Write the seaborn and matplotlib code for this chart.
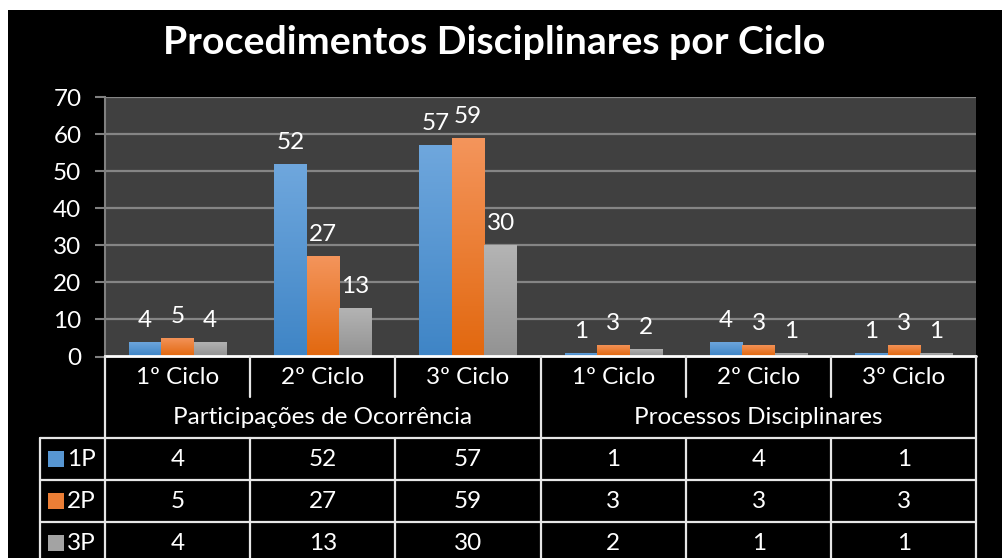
# Procedimentos Disciplinares por Ciclo - grafico de barras com tabela de dados
import numpy as np
import pandas as pd
import matplotlib
matplotlib.use('Agg')
import matplotlib.pyplot as plt
import matplotlib.colors as mcolors
import seaborn as sns

# dados
grupos = ['Participações de Ocorrência', 'Processos Disciplinares']
ciclos = ['1º Ciclo', '2º Ciclo', '3º Ciclo']
series = ['1P', '2P', '3P']
valores_1p = [4, 52, 57, 1, 4, 1]
valores_2p = [5, 27, 59, 3, 3, 3]
valores_3p = [4, 13, 30, 2, 1, 1]
yticks = [0, 10, 20, 30, 40, 50, 60, 70]

# cores (topo, base) do gradiente
cores = {'1P': ('#6fa7dd', '#3f85c6'),
         '2P': ('#f4955c', '#e2680f'),
         '3P': ('#b4b4b4', '#939393')}
cor_media = {s: mcolors.to_hex(np.mean([mcolors.to_rgb(c) for c in cores[s]], axis=0)) for s in series}

sns.set_theme(style='dark')
plt.rcParams['font.family'] = ['Lato', 'DejaVu Sans']

# tabela longa para o seaborn
categorias = [g + '|' + c for g in grupos for c in ciclos]
linhas = []
for s, vals in zip(series, [valores_1p, valores_2p, valores_3p]):
    for cat, v in zip(categorias, vals):
        linhas.append({'categoria': cat, 'serie': s, 'valor': v})
df = pd.DataFrame(linhas)

W, H = 1002, 558
fig = plt.figure(figsize=(W / 100, H / 100), dpi=100, facecolor='black')

def fx(x):
    return x / W

def fy(y):
    return 1 - y / H

# margem branca em cima e a esquerda
fig.patches.append(plt.Rectangle((0, fy(10)), 1, 1 - fy(10), transform=fig.transFigure,
                                 facecolor='white', edgecolor='none', zorder=-5))
fig.patches.append(plt.Rectangle((0, 0), fx(8), 1, transform=fig.transFigure,
                                 facecolor='white', edgecolor='none', zorder=-5))

x0, x1, ytop, ybot = 105, 976.5, 97, 356.5
ax = fig.add_axes([fx(x0), fy(ybot), fx(x1 - x0), fy(ytop) - fy(ybot)])
ax.set_facecolor('#404040')

sns.barplot(data=df, x='categoria', y='valor', hue='serie', order=categorias,
            hue_order=series, palette=cor_media, width=0.67, saturation=1,
            legend=False, ax=ax, zorder=3, linewidth=0, edgecolor='none')

# gradiente vertical nas barras
for patch, (s, cat) in zip(ax.patches, [(s, c) for s in series for c in categorias]):
    bx, by = patch.get_x(), patch.get_y()
    bw, bh = patch.get_width(), patch.get_height()
    if bh <= 0:
        continue
    cmap = mcolors.LinearSegmentedColormap.from_list('g', [cores[s][1], cores[s][0]])
    grad = np.linspace(0, 1, 100).reshape(-1, 1)
    im = ax.imshow(grad, cmap=cmap, origin='lower', aspect='auto',
                   extent=(bx, bx + bw, by, by + bh), zorder=4)
    im.set_clip_path(patch)
    patch.set_facecolor('none')
    patch.set_edgecolor('none')

# rotulos de dados
for patch, v in zip(ax.patches, valores_1p + valores_2p + valores_3p):
    ax.annotate(str(v), (patch.get_x() + patch.get_width() / 2, patch.get_height()),
                xytext=(0, 8), textcoords='offset points', ha='center', va='bottom',
                color='white', fontsize=17.5, zorder=6)

ax.set_xlim(-0.5, 5.5)
ax.set_ylim(0, 70)
ax.set_yticks(yticks)
ax.set_yticklabels([str(t) for t in yticks], color='white', fontsize=17.5)
ax.tick_params(axis='y', length=7, width=1.5, color='#808080', pad=10, left=True)
ax.tick_params(axis='x', length=0)
ax.set_xticklabels([])
ax.set_xlabel('')
ax.set_ylabel('')
ax.grid(axis='y', color='#858585', linewidth=1.6, zorder=1)
ax.grid(axis='x', visible=False)
for side in ['top', 'right', 'bottom']:
    ax.spines[side].set_visible(False)
ax.spines['left'].set_color('#808080')
ax.spines['left'].set_linewidth(1.5)

# titulo
fig.text(fx(494), fy(43), 'Procedimentos Disciplinares por Ciclo', ha='center',
         va='center', color='white', fontsize=28.3, fontweight='bold')

# tabela de dados por baixo
tb = fig.add_axes([fx(x0), 0, fx(x1 - x0), fy(ybot)])
tb.set_xlim(-0.5, 5.5)
tb.set_ylim(H, ybot)
tb.axis('off')
tb.patch.set_alpha(0)
cw = (x1 - x0) / 6  # pixels por categoria
leg_l = -0.5 - (x0 - 40) / cw
r1, r2, r3, r4 = 397, 438, 480, 522
lc = '#e6e6e6'
lw = 1.6
kw = dict(color=lc, linewidth=lw, clip_on=False)
tb.plot([-0.5, 5.5], [ybot, ybot], color='white', linewidth=2, clip_on=False)
tb.plot([leg_l, 5.5], [r2, r2], **kw)
tb.plot([leg_l, 5.5], [r3, r3], **kw)
tb.plot([leg_l, 5.5], [r4, r4], **kw)
tb.plot([leg_l, leg_l], [r2, H], **kw)
for xb in [-0.5, 2.5, 5.5]:
    tb.plot([xb, xb], [ybot, H], **kw)
for xb in [0.5, 1.5, 3.5, 4.5]:
    tb.plot([xb, xb], [ybot, r1], **kw)
    tb.plot([xb, xb], [r2, H], **kw)

fs = 17.5
for i, cat in enumerate(categorias):
    tb.text(i, (ybot + r1) / 2 + 1, cat.split('|')[1], ha='center', va='center',
            color='white', fontsize=fs)
for g, nome in enumerate(grupos):
    tb.text(3 * g + 1, (r1 + r2) / 2, nome, ha='center', va='center',
            color='white', fontsize=fs)
linhas_y = [(r2 + r3) / 2, (r3 + r4) / 2, (r4 + H) / 2 + 3]
for s, vals, yc in zip(series, [valores_1p, valores_2p, valores_3p], linhas_y):
    for i, v in enumerate(vals):
        tb.text(i, yc, str(v), ha='center', va='center', color='white', fontsize=fs)
    # chave da legenda
    tb.add_patch(plt.Rectangle((leg_l + 8 / cw, yc - 8), 16 / cw, 16,
                               facecolor=cor_media[s], edgecolor='none', clip_on=False))
    tb.text(leg_l + 27 / cw, yc, s, ha='left', va='center',
            color='white', fontsize=fs)

fig.savefig('out.png', dpi=100, facecolor=fig.get_facecolor())
